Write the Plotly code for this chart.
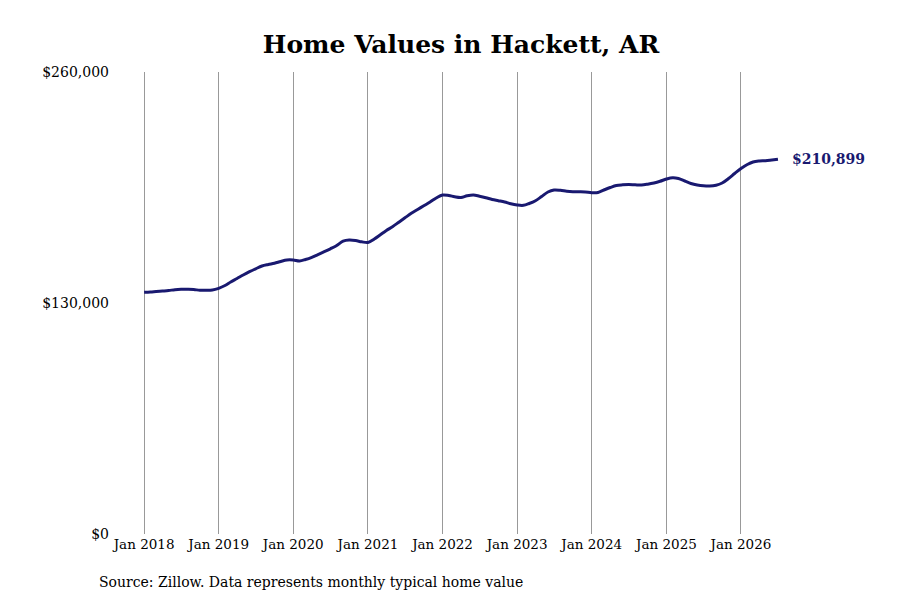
import pandas as pd
import plotly.graph_objs as go

# Monthly typical home value, Jan 2018 - Jul 2026
values = [
    136020, 136190, 136470, 136750, 137030, 137490, 137710, 137710, 137600, 137150, 137150, 137310,
    138270, 139850, 141820, 143790, 145760, 147620, 149250, 150830, 151670, 152350, 153360, 154200,
    154200, 153640, 154480, 155720, 157290, 158870, 160500, 162360, 164780, 165450, 165170, 164440,
    164050, 166020, 168270, 170800, 172940, 175470, 177950, 180480, 182620, 184700, 186840, 189090,
    190780, 190500, 189770, 189370, 190330, 190780, 190100, 189260, 188250, 187570, 186840, 185830,
    185150, 184980, 186000, 187570, 189940, 192470, 193590, 193430, 192920, 192640, 192580, 192470,
    192070, 192190, 193590, 195000, 196130, 196520, 196690, 196520, 196410, 196860, 197530, 198490,
    199780, 200510, 200060, 198650, 197250, 196410, 195960, 195840, 196290, 197530, 200060, 202880,
    205690, 207940, 209350, 209910, 210080, 210480, 210899,
]
dates = pd.date_range("2018-01-01", periods=len(values), freq="MS")

tick_dates = pd.date_range("2018-01-01", "2026-01-01", freq="YS")
tick_labels = [d.strftime("Jan %Y") for d in tick_dates]
y_ticks = [0, 130000, 260000]
y_labels = ["$0", "$130,000", "$260,000"]

line_color = "#191970"
font_family = "DejaVu Serif"

# page body adds an 8px offset, so positions below are shifted back by 8
W, H = 900, 600
L, R, T, B = 102, 118, 64, 74
pw, ph = W - L - R, H - T - B

fig = go.Figure()
fig.add_trace(go.Scatter(x=dates, y=values, mode="lines",
                         line=dict(color=line_color, width=3, shape="spline"),
                         hoverinfo="skip", showlegend=False))

# label for the latest value
fig.add_annotation(x=dates[-1], y=values[-1], text=f"<b>${values[-1]:,}</b>",
                   xanchor="left", yanchor="middle", xshift=12, showarrow=False,
                   font=dict(family=font_family, size=14, color=line_color))

# source note
fig.add_annotation(x=(89 - L) / pw, y=(H - B - 574) / ph, xref="paper", yref="paper",
                   text="Source: Zillow. Data represents monthly typical home value",
                   showarrow=False, font=dict(family=font_family, size=14, color="black"),
                   xanchor="left", yanchor="middle")

fig.update_layout(
    width=W, height=H,
    margin=dict(l=L, r=R, t=T, b=B),
    paper_bgcolor="white", plot_bgcolor="white",
    title=dict(text="<b>Home Values in Hackett, AR</b>", x=453 / W, xanchor="center",
               y=1 - 36 / H, yanchor="middle",
               font=dict(family=font_family, size=25, color="black")),
    font=dict(family=font_family, size=13, color="black"),
    xaxis=dict(range=["2017-07-18", "2026-08-29"], tickvals=tick_dates, ticktext=tick_labels,
               showgrid=True, gridcolor="#999999", gridwidth=1, zeroline=False,
               showline=False, ticks="", tickfont=dict(size=13.5)),
    yaxis=dict(range=[0, 260000], tickvals=y_ticks, ticktext=y_labels,
               showgrid=False, zeroline=False, showline=False, ticks="",
               tickfont=dict(size=14)),
)

fig.write_html("out.html")
